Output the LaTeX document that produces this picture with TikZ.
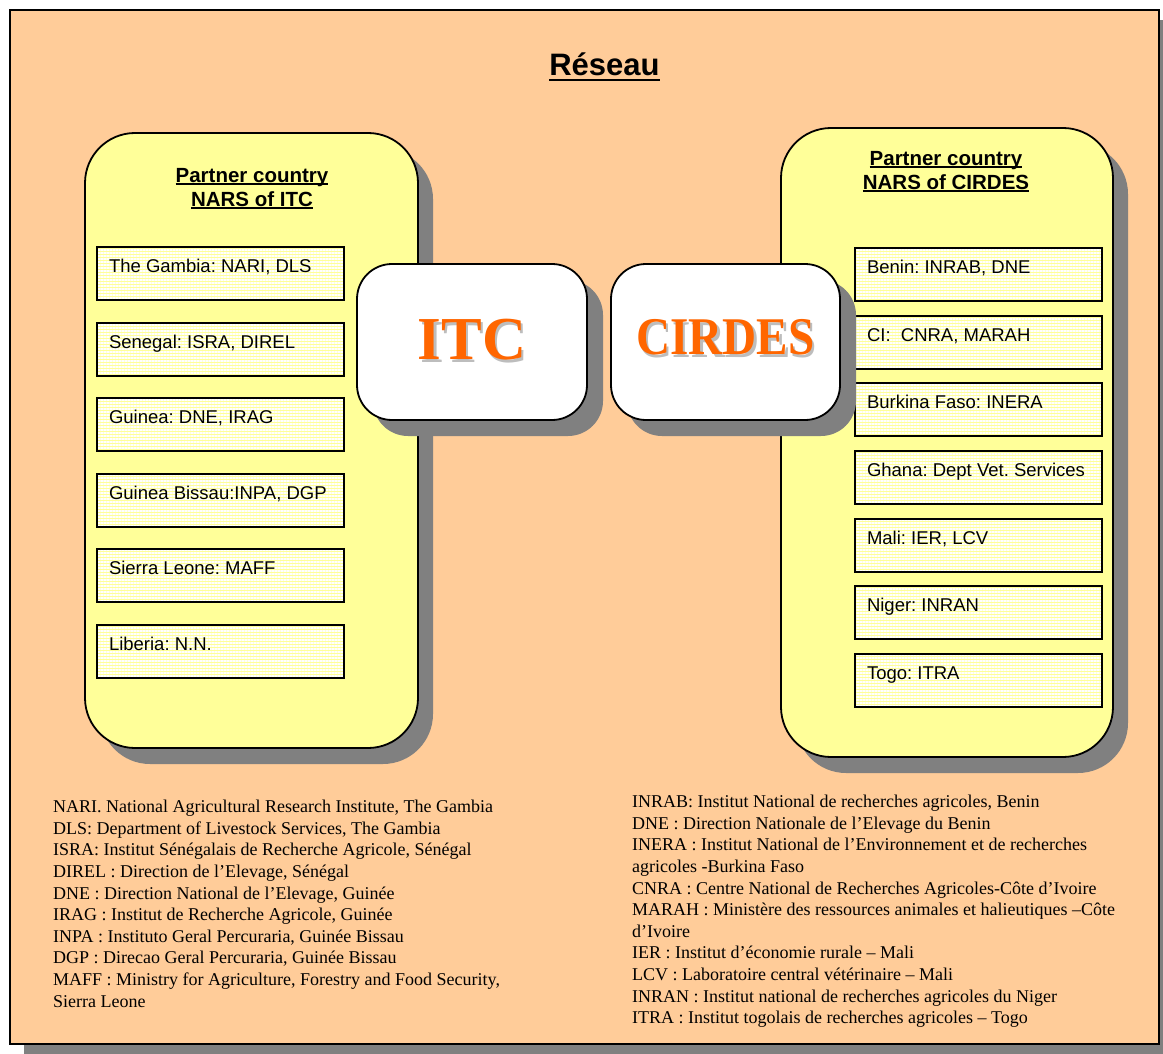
\documentclass[tikz,border=0pt]{standalone}
\usepackage{fontspec}
\usepackage{graphicx}
\setmainfont{Liberation Serif}
\newfontfamily\arialf{Liberation Sans}
\newfontfamily\tnrf{Liberation Serif}
\usetikzlibrary{patterns.meta,shadows}
\definecolor{peach}{HTML}{FFCC99}
\definecolor{bigyellow}{HTML}{FFFF99}
\definecolor{shadowgray}{HTML}{808080}
\definecolor{orangetxt}{HTML}{FF6600}
\definecolor{txtshadow}{HTML}{BDBDBD}
\newsavebox\ulb
\newcommand\myul[3]{\sbox\ulb{#3}\rlap{\rule[#2]{\wd\ulb}{#1}}\usebox\ulb}
\frenchspacing
\begin{document}
\begin{tikzpicture}[x=1pt,y=-1pt,
  framebox/.style={draw, line width=2.2pt, fill=peach, inner sep=0pt,
    minimum width=1149pt, minimum height=1034pt},
  titletext/.style={font=\arialf\bfseries\fontsize{31}{36}\selectfont, inner sep=0pt},
  bigbox/.style={draw, line width=1.8pt, fill=bigyellow, rounded corners=50pt, inner sep=0pt,
    drop shadow={shadow xshift=15pt, shadow yshift=-16pt, fill=shadowgray, opacity=1}},
  heading/.style={font=\arialf\bfseries\fontsize{20.5}{24}\selectfont, align=center, inner sep=0pt},
  itembox/.style={draw, line width=1.6pt, preaction={fill=bigyellow},
    pattern={Lines[angle=0,distance=3pt,line width=1.3pt]}, pattern color=white,
    text width=223pt, inner xsep=12pt, inner ysep=0pt, text height=25pt, text depth=28pt,
    align=flush left, font=\arialf\fontsize{18.5}{22}\selectfont\frenchspacing},
  orgbox/.style={draw, line width=1.8pt, fill=white, rounded corners=35pt, inner sep=0pt,
    minimum width=230pt, minimum height=156pt, text=orangetxt,
    drop shadow={shadow xshift=16pt, shadow yshift=-16pt, fill=shadowgray, opacity=1}},
  legend/.style={font=\tnrf\fontsize{18}{21.6}\selectfont\frenchspacing, align=left, inner sep=0pt, anchor=north west}
]
\useasboundingbox (0,0) rectangle (1163,1054);
% outer frame with its shadow
\fill[shadowgray] (24,20) rectangle (1163,1054);
\node[framebox] (frame) at (584.5,527) {};
\node[titletext, anchor=base] (title) at (604.5,76) {\myul{2.6pt}{-5.5pt}{Réseau}};

% big partner boxes
\node[bigbox, minimum width=333pt, minimum height=615pt] (left) at (251.5,440.5) {};
\node[bigbox, minimum width=332pt, minimum height=629pt] (right) at (947,442.5) {};

\node[heading, anchor=north] (lhead) at (252,168) {\myul{2.2pt}{-3pt}{Partner country}\\\myul{2.2pt}{-3pt}{NARS of ITC}};
\node[heading, anchor=north] (rhead) at (946,151) {\myul{2.2pt}{-3pt}{Partner country}\\\myul{2.2pt}{-3pt}{NARS of CIRDES}};

% left items
\node[itembox] (l1) at (220.5,273.5) {The Gambia: NARI, DLS};
\node[itembox] (l2) at (220.5,349.5) {Senegal: ISRA, DIREL};
\node[itembox] (l3) at (220.5,424.5) {Guinea: DNE, IRAG};
\node[itembox] (l4) at (220.5,500.5) {Guinea Bissau:INPA, DGP};
\node[itembox] (l5) at (220.5,575.5) {Sierra Leone: MAFF};
\node[itembox] (l6) at (220.5,651.5) {Liberia: N.N.};

% right items
\node[itembox] (r1) at (978.5,274.5) {Benin: INRAB, DNE};
\node[itembox] (r2) at (978.5,342.5) {CI:\ \ CNRA, MARAH};
\node[itembox] (r3) at (978.5,409.5) {Burkina Faso: INERA};
\node[itembox] (r4) at (978.5,477.5) {Ghana: Dept Vet. Services};
\node[itembox] (r5) at (978.5,545.5) {Mali: IER, LCV};
\node[itembox] (r6) at (978.5,612.5) {Niger: INRAN};
\node[itembox] (r7) at (978.5,680.5) {Togo: ITRA};

% central organisations
\node[orgbox, font=\tnrf\bfseries\fontsize{61}{70}\selectfont] (itc) at (472,342)
  {\raisebox{4.5pt}{\rlap{\color{txtshadow}\hspace{2.5pt}\raisebox{-2.5pt}{ITC}}ITC}};
\node[orgbox, minimum width=229pt, font=\tnrf\bfseries\fontsize{53}{60}\selectfont] (cirdes) at (725.5,342)
  {\raisebox{9.5pt}{\scalebox{0.89}[1]{\rlap{\color{txtshadow}\hspace{2.5pt}\raisebox{-2.5pt}{CIRDES}}CIRDES}}};

% legends
\node[legend] (lleg) at (53,800) {NARI. National Agricultural Research Institute, The Gambia\\
DLS: Department of Livestock Services, The Gambia\\
ISRA: Institut Sénégalais de Recherche Agricole, Sénégal\\
DIREL : Direction de l’Elevage, Sénégal\\
DNE : Direction National de l’Elevage, Guinée\\
IRAG : Institut de Recherche Agricole, Guinée\\
INPA : Instituto Geral Percuraria, Guinée Bissau\\
DGP : Direcao Geral Percuraria, Guinée Bissau\\
MAFF : Ministry for Agriculture, Forestry and Food Security,\\
Sierra Leone};
\node[legend] (rleg) at (632,795) {INRAB: Institut National de recherches agricoles, Benin\\
DNE : Direction Nationale de l’Elevage du Benin\\
INERA : Institut National de l’Environnement et de recherches\\
agricoles -Burkina Faso\\
CNRA : Centre National de Recherches Agricoles-Côte d’Ivoire\\
MARAH : Ministère des ressources animales et halieutiques –Côte\\
d’Ivoire\\
IER : Institut d’économie rurale – Mali\\
LCV : Laboratoire central vétérinaire – Mali\\
INRAN : Institut national de recherches agricoles du Niger\\
ITRA : Institut togolais de recherches agricoles – Togo};
\end{tikzpicture}
\end{document}
